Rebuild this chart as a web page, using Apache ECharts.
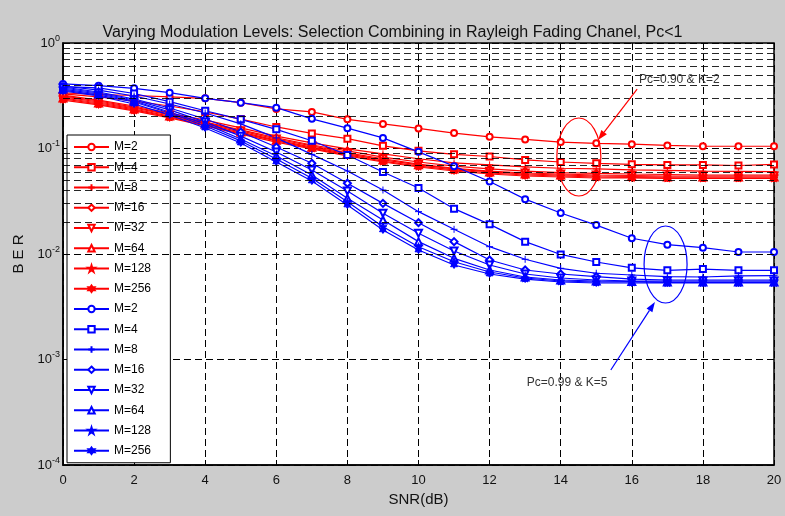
<!DOCTYPE html>
<html><head><meta charset="utf-8">
<script src="https://cdn.jsdelivr.net/npm/echarts@6/dist/echarts.min.js"></script>
<style>html,body{margin:0;padding:0;background:#cccccc}#c{width:785px;height:516px}</style>
</head><body><div id="c"></div>
<script>
const snr = [0,1,2,3,4,5,6,7,8,9,10,11,12,13,14,15,16,17,18,19,20];
const mLabels = ['M=2','M=4','M=8','M=16','M=32','M=64','M=128','M=256'];

// Pc=0.90 & K=2 (red)
const redM2   = [0.336,0.325,0.318,0.308,0.299,0.272,0.237,0.222,0.189,0.171,0.155,0.140,0.129,0.122,0.115,0.112,0.110,0.107,0.105,0.105,0.105];
const redM4   = [0.329,0.308,0.282,0.253,0.222,0.190,0.160,0.139,0.124,0.106,0.095,0.088,0.084,0.078,0.0745,0.0724,0.0708,0.0698,0.0698,0.069,0.0706];
const redM8   = [0.321,0.288,0.253,0.217,0.186,0.157,0.131,0.113,0.099,0.089,0.080,0.073,0.070,0.067,0.065,0.064,0.0626,0.062,0.061,0.0606,0.0603];
const redM16  = [0.315,0.282,0.247,0.212,0.178,0.150,0.126,0.108,0.095,0.083,0.0745,0.068,0.064,0.061,0.059,0.058,0.0573,0.0567,0.0561,0.0561,0.0561];
const redM32  = [0.308,0.276,0.242,0.208,0.175,0.147,0.123,0.106,0.091,0.080,0.071,0.065,0.061,0.0586,0.0573,0.0561,0.0555,0.0549,0.0549,0.0549,0.0549];
const redM64  = [0.301,0.270,0.237,0.203,0.171,0.143,0.120,0.103,0.089,0.078,0.070,0.064,0.060,0.0573,0.0561,0.0549,0.0543,0.0537,0.0537,0.0537,0.0537];
const redM128 = [0.295,0.264,0.232,0.199,0.167,0.140,0.118,0.101,0.087,0.076,0.068,0.0626,0.0586,0.0561,0.0549,0.0537,0.0531,0.0525,0.0525,0.0525,0.0525];
const redM256 = [0.288,0.259,0.227,0.195,0.164,0.137,0.115,0.099,0.085,0.0745,0.0668,0.0612,0.0573,0.0549,0.0537,0.0525,0.0525,0.052,0.052,0.052,0.052];

// Pc=0.99 & K=5 (blue)
const blueM2   = [0.409,0.394,0.372,0.338,0.299,0.272,0.244,0.191,0.156,0.126,0.093,0.068,0.0486,0.0331,0.0245,0.0188,0.0141,0.01225,0.01147,0.01045,0.01045];
const blueM4   = [0.386,0.375,0.332,0.278,0.228,0.189,0.152,0.1185,0.0868,0.0599,0.0422,0.0269,0.0191,0.0131,0.0099,0.0084,0.0074,0.0070,0.0072,0.0070,0.0070];
const blueM8   = [0.391,0.358,0.3145,0.264,0.217,0.171,0.126,0.088,0.0612,0.0404,0.0252,0.01714,0.01173,0.00891,0.00732,0.00657,0.00632,0.00609,0.00605,0.0062,0.00623];
const blueM16  = [0.383,0.343,0.2945,0.242,0.1905,0.1434,0.1033,0.0724,0.0468,0.0302,0.0198,0.0131,0.00877,0.00705,0.00646,0.00609,0.00579,0.00567,0.00567,0.00567,0.00567];
const blueM32  = [0.3745,0.336,0.288,0.232,0.178,0.131,0.0927,0.0626,0.0396,0.0243,0.0157,0.01067,0.00787,0.00646,0.00592,0.00567,0.00555,0.00555,0.00555,0.00555,0.00555];
const blueM64  = [0.366,0.3285,0.282,0.222,0.171,0.123,0.0849,0.0561,0.0337,0.0210,0.0131,0.0091,0.00705,0.00605,0.00567,0.00555,0.00549,0.00543,0.00543,0.00543,0.00543];
const blueM128 = [0.358,0.321,0.276,0.217,0.1635,0.118,0.0795,0.0522,0.0313,0.01815,0.01173,0.00845,0.00675,0.00592,0.00555,0.00543,0.00543,0.00537,0.00537,0.00537,0.00537];
const blueM256 = [0.3507,0.3145,0.264,0.208,0.1565,0.1128,0.0745,0.0492,0.0291,0.0169,0.0109,0.00787,0.00646,0.00579,0.00543,0.00531,0.00531,0.00531,0.00531,0.00531,0.00531];

const minorMantissas = [2,3,4,5,6,7,8,9];
const decades = [0.0001,0.001,0.01,0.1];

// annotation anchors in data coordinates [SNR, BER]
const redNote = {text:'Pc=0.90 & K=2', textAt:[16.2,0.446], tail:[16.15,0.366], head:[15.05,0.1204], ellipse:[14.51,0.0831]};
const blueNote = {text:'Pc=0.99 & K=5', textAt:[14.18,0.000599], tail:[15.41,0.000795], head:[16.65,0.00351], ellipse:[16.95,0.00795]};

const RED = '#ff0000', BLUE = '#0000ff';
const FONT = "'Liberation Sans',Arial,sans-serif";
const markers = [
  'emptyCircle','emptyRect','path://M0,-1L0,1M-1,0L1,0','emptyDiamond',
  'emptyTriangle','emptyTriangle',
  'path://M0,-1L0.223,-0.307L0.951,-0.309L0.361,0.117L0.588,0.809L0,0.38L-0.588,0.809L-0.361,0.117L-0.951,-0.309L-0.223,-0.307Z',
  'path://M0,-1L0.289,-0.5L0.866,-0.5L0.577,0L0.866,0.5L0.289,0.5L0,1L-0.289,0.5L-0.866,0.5L-0.577,0L-0.866,-0.5L-0.289,-0.5Z'
];
const markerRotate = [0,0,0,0,180,0,0,0];
const markerSizes = [6,6,7,7,7,7,8,7];

const redSets = [redM2,redM4,redM8,redM16,redM32,redM64,redM128,redM256];
const blueSets = [blueM2,blueM4,blueM8,blueM16,blueM32,blueM64,blueM128,blueM256];

function mkSeries(name, vals, color, i){
  return {
    name: name, type:'line', z:3,
    data: snr.map((x,j)=>[x, vals[j]]),
    symbol: markers[i], symbolSize: markerSizes[i], symbolRotate: markerRotate[i],
    showAllSymbol: true,
    lineStyle:{color:color, width:1.2},
    itemStyle:{color:color, borderColor:color, borderWidth:1},
    emphasis:{disabled:true},
    animation:false
  };
}
const series = [];
const legendNames = [];
redSets.forEach((v,i)=>{ series.push(mkSeries(mLabels[i], v, RED, i)); legendNames.push(mLabels[i]); });
blueSets.forEach((v,i)=>{ series.push(mkSeries(mLabels[i]+' ', v, BLUE, i)); legendNames.push(mLabels[i]+' '); });

const minorGrid = [];
decades.forEach(d=>minorMantissas.forEach(m=>minorGrid.push({yAxis: +(d*m).toPrecision(3)})));
series.unshift({
  name:'grid', type:'line', data:[], z:1, silent:true,
  markLine:{silent:true, symbol:['none','none'], label:{show:false}, animation:false,
    lineStyle:{color:'#000', type:[7,4], width:1, opacity:0.85}, data:minorGrid}
});

const chart = echarts.init(document.getElementById('c'), null, {renderer:'canvas'});
chart.setOption({
  backgroundColor:'#cccccc',
  animation:false,
  title:{text:'Varying Modulation Levels: Selection Combining in Rayleigh Fading Chanel, Pc<1',
    left:'center', top:20, textStyle:{fontFamily:FONT, fontSize:16, fontWeight:'normal', color:'#111'}},
  grid:{left:63, right:11, top:43, bottom:51, show:true, backgroundColor:'#fff', borderColor:'#000', borderWidth:1.5},
  legend:{orient:'vertical', left:67, top:135, data:legendNames,
    itemWidth:35, itemHeight:8, itemGap:8.25,
    padding:[6,16,6,6], backgroundColor:'#fff', borderColor:'#000', borderWidth:1,
    textStyle:{fontFamily:FONT, fontSize:12, color:'#000'}, selectedMode:false},
  xAxis:{type:'value', min:0, max:20, interval:2,
    name:'SNR(dB)', nameLocation:'middle', nameGap:26,
    nameTextStyle:{fontFamily:FONT, fontSize:15, color:'#111'},
    axisLine:{show:true, lineStyle:{color:'#000', width:1.5}},
    axisTick:{show:true, inside:true, length:5, lineStyle:{color:'#000'}},
    axisLabel:{fontFamily:FONT, fontSize:13, color:'#111', margin:9},
    splitLine:{show:true, lineStyle:{color:'#000', type:[7,4], width:1}}},
  yAxis:{type:'log', logBase:10, min:0.0001, max:1,
    name:'B E R', nameLocation:'middle', nameGap:22,
    nameTextStyle:{fontFamily:FONT, fontSize:15, color:'#111'},
    axisLine:{show:true, lineStyle:{color:'#000', width:1.5}},
    axisTick:{show:true, inside:true, length:5, lineStyle:{color:'#000'}},
    axisLabel:{margin:3, formatter:function(v){const e=Math.round(Math.log10(v));return '{b|10}{s|'+e+'}';},
      rich:{b:{fontFamily:FONT, fontSize:13, color:'#111', lineHeight:18},
            s:{fontFamily:FONT, fontSize:9, color:'#111', verticalAlign:'top', lineHeight:10}}},
    splitLine:{show:true, lineStyle:{color:'#000', type:[7,4], width:1}}},
  series: series
});

function px(p){ return chart.convertToPixel({gridIndex:0}, p); }
function arrow(note, color){
  const t = px(note.tail), h = px(note.head);
  const ang = Math.atan2(h[1]-t[1], h[0]-t[0]);
  const L = 10, W = 3.5;
  const bx = h[0]-L*Math.cos(ang), by = h[1]-L*Math.sin(ang);
  const nx = -Math.sin(ang), ny = Math.cos(ang);
  return [
    {type:'line', shape:{x1:t[0],y1:t[1],x2:bx,y2:by}, style:{stroke:color, lineWidth:1.2}, silent:true, z:10},
    {type:'polygon', shape:{points:[[h[0],h[1]],[bx+nx*W,by+ny*W],[bx-nx*W,by-ny*W]]}, style:{fill:color}, silent:true, z:10}
  ];
}
function ellipse(note, color, rx, ry){
  const c = px(note.ellipse);
  return {type:'ellipse', shape:{cx:c[0], cy:c[1], rx:rx, ry:ry}, style:{fill:null, stroke:color, lineWidth:1.2}, silent:true, z:10};
}
const rt = px(redNote.textAt), bt = px(blueNote.textAt);
chart.setOption({graphic:[
  ellipse(redNote, RED, 22, 39),
  ellipse(blueNote, BLUE, 21.5, 38.5),
  ...arrow(redNote, RED),
  ...arrow(blueNote, BLUE),
  {type:'text', x:rt[0], y:rt[1], style:{text:redNote.text, fontFamily:FONT, fontSize:12, fill:'#333', align:'left', verticalAlign:'middle'}, silent:true, z:10},
  {type:'text', x:bt[0], y:bt[1], style:{text:blueNote.text, fontFamily:FONT, fontSize:12, fill:'#333', align:'center', verticalAlign:'middle'}, silent:true, z:10}
]});
</script></body></html>
